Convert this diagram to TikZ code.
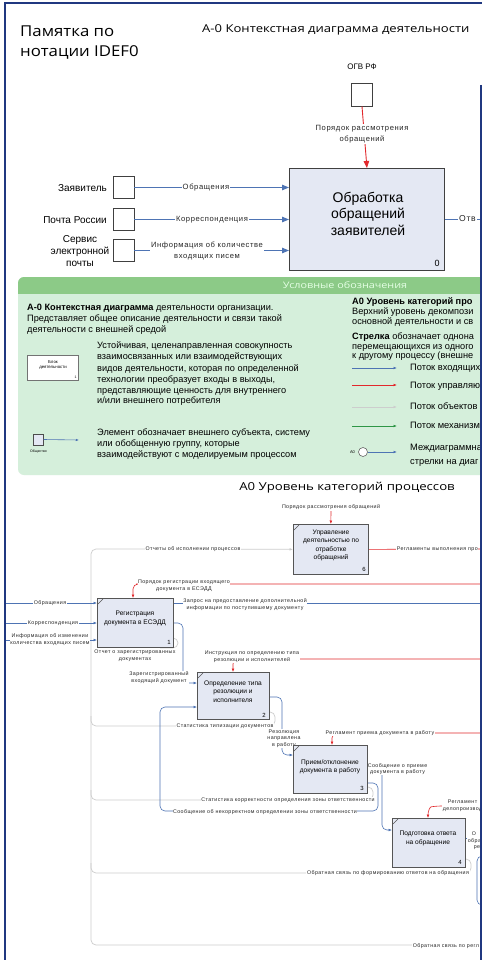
\documentclass[tikz,border=0pt]{standalone}
\usepackage{fontspec}
\setmainfont{Liberation Sans}
\newfontfamily\headfont[FakeStretch=1.12]{Open Sans}
\newfontfamily\widehead[FakeStretch=1.2]{Open Sans}
\newfontfamily\lblfont[LetterSpace=8]{Liberation Sans}
\usetikzlibrary{arrows.meta}

\definecolor{frameblue}{RGB}{32,56,128}
\definecolor{flowblue}{RGB}{78,116,180}
\definecolor{ctrlred}{RGB}{226,40,44}
\definecolor{fbgray}{RGB}{205,205,205}
\definecolor{boxfill}{RGB}{228,232,243}
\definecolor{boxline}{RGB}{85,85,85}
\definecolor{legbody}{RGB}{213,239,219}
\definecolor{leghead}{RGB}{140,202,135}
\definecolor{mechgreen}{RGB}{46,150,70}

\newcommand\legline[4]{\node[legtext, anchor=mid west] (#1) at (#2,#3) {#4};}

\begin{document}
\begin{tikzpicture}[x=1pt,y=-1pt,
  headtitle/.style={font=\headfont\fontsize{15}{18}\selectfont, inner sep=0},
  headsub/.style={font=\widehead\fontsize{10.9}{13}\selectfont, inner sep=0},
  srcbox/.style={draw=black!75, fill=white, line width=0.8pt, minimum width=21pt, minimum height=21.5pt, inner sep=0},
  procbox/.style={draw=boxline, fill=boxfill, line width=0.7pt, inner sep=0, anchor=north west},
  boxtext/.style={font=\fontsize{6.6}{8.3}\selectfont, align=center, inner sep=0},
  numtext/.style={font=\fontsize{6}{7}\selectfont, inner sep=0},
  tag/.style={font=\lblfont\fontsize{5.3}{6.6}\selectfont, align=center, fill=white, inner sep=0.6pt, text=black!85},
  toptag/.style={font=\lblfont\fontsize{7.6}{10.5}\selectfont, align=center, fill=white, inner sep=1pt, text=black!85},
  srcname/.style={font=\fontsize{10}{12}\selectfont, inner sep=0, align=center},
  legtext/.style={font=\fontsize{9.2}{11}\selectfont, inner sep=0},
  flowname/.style={font=\fontsize{9.3}{12}\selectfont, anchor=mid west, inner sep=0},
  bigin/.style={draw=flowblue, line width=0.9pt, -{Triangle[length=7pt,width=5.5pt]}},
  bigctrl/.style={draw=ctrlred, line width=0.9pt, -{Triangle[length=7pt,width=5.5pt]}},
  flowin/.style={draw=flowblue, line width=0.6pt, rounded corners=5pt, -{Latex[length=3.5pt,width=2.8pt]}},
  flowout/.style={draw=flowblue, line width=0.6pt, rounded corners=5pt},
  ctrl/.style={draw=ctrlred, line width=0.6pt, rounded corners=5pt, -{Latex[length=3.5pt,width=2.8pt]}},
  ctrlout/.style={draw=ctrlred, line width=0.6pt},
  fb/.style={draw=fbgray, line width=0.7pt, rounded corners=5pt},
  legarrow/.style={line width=0.8pt, -{Latex[length=3.5pt,width=2.8pt]}},
  corner/.style={draw=boxline, line width=0.6pt}
]
\useasboundingbox (0,0) rectangle (482,960);
\fill[white] (0,0) rectangle (482,960);

\begin{scope}
\clip (0,0) rectangle (480,960);

% ---------- headings ----------
\node[headtitle, anchor=base west] (memo1) at (20,37) {Памятка по};
\node[headtitle, anchor=base west] (memo2) at (20,57) {нотации IDEF0};
\node[headsub, anchor=base west] (a0title) at (202,33) {А-0 Контекстная диаграмма деятельности};

% ---------- context diagram A-0 ----------
\node[srcbox, minimum height=23pt] (ogv) at (362,94.5) {};
\node[font=\fontsize{8}{9}\selectfont, inner sep=0] (ogvname) at (362,67) {ОГВ РФ};
\node[procbox, draw=black!75, line width=0.9pt, minimum width=155pt, minimum height=102pt] (b0) at (289,168) {};
\node[font=\fontsize{14}{16.5}\selectfont, align=center, inner sep=0] (b0text) at (368,213.5) {Обработка\\обращений\\заявителей};
\node[font=\fontsize{9}{10}\selectfont, inner sep=0] (b0num) at (437,263) {0};

\node[srcbox] (s1) at (123.5,187.5) {};
\node[srcbox] (s2) at (123.5,219.5) {};
\node[srcbox, minimum height=22pt] (s3) at (123.5,250.5) {};
\node[srcname, anchor=east] (s1name) at (107,188) {Заявитель};
\node[srcname, anchor=east] (s2name) at (107,220) {Почта России};
\node[srcname] (s3name) at (80,251) {Сервис\\электронной\\почты};

\draw[bigctrl] (ogv.south) -- (b0.north);
\node[toptag] (ogvflow) at (362,134) {Порядок рассмотрения\\обращений};
\draw[bigin] (s1.east) -- (b0.west |- s1.east);
\draw[bigin] (s2.east) -- (b0.west |- s2.east);
\draw[bigin] (s3.east) -- (b0.west |- s3.east);
\node[toptag] (f1) at (206,187.5) {Обращения};
\node[toptag] (f2) at (212,219.5) {Корреспонденция};
\node[toptag] (f3) at (207,251) {Информация об количестве\\входящих писем};
\coordinate (b0out) at (482,219);
\draw[draw=flowblue, line width=0.9pt] (b0.east |- b0out) -- (b0out);
\node[toptag, font=\lblfont\fontsize{8.6}{10}\selectfont, anchor=west] (f4) at (458,219) {Отв};

% ---------- legend panel ----------
\fill[legbody, rounded corners=6pt] (18,277) rectangle (500,475);
\begin{scope}
  \clip (0,270) rectangle (482,293.5);
  \fill[leghead, rounded corners=6pt] (18,277) rectangle (500,300);
\end{scope}
\node[font=\widehead\fontsize{9}{11}\selectfont, text=white!90!green, inner sep=0] (leghdr) at (345,285.5) {Условные обозначения};

\legline{l1}{27}{308}{\textbf{А-0 Контекстная диаграмма} деятельности организации.}
\legline{l2}{27}{319}{Представляет общее описание деятельности и связи такой}
\legline{l3}{27}{330}{деятельности с внешней средой}

\node[draw=black!55, fill=white, line width=0.5pt, anchor=north west, minimum width=51pt, minimum height=25pt, inner sep=0] (legblock) at (27,355) {};
\node[font=\fontsize{4.3}{5}\selectfont, align=center, inner sep=0] (legblocktxt) at (53,365) {Блок\\деятельности};
\node[font=\fontsize{3.5}{4}\selectfont, inner sep=0] (legblocknum) at (75.5,377.5) {1};
\legline{l4}{97}{346}{Устойчивая, целенаправленная совокупность}
\legline{l5}{97}{357}{взаимосвязанных или взаимодействующих}
\legline{l6}{97}{369}{видов деятельности, которая по определенной}
\legline{l7}{97}{380}{технологии преобразует входы в выходы,}
\legline{l8}{97}{391}{представляющие ценность для внутреннего}
\legline{l9}{97}{401}{и/или внешнего потребителя}

\node[draw=black!70, fill=boxfill, line width=0.5pt, minimum width=10pt, minimum height=11pt, inner sep=0] (legsrc) at (38.5,439.5) {};
\coordinate (legsrcend) at (79,440);
\draw[draw=flowblue, line width=0.6pt, -{Latex[length=3pt,width=2.4pt]}] (legsrc.east) -- (legsrcend);
\node[font=\fontsize{3.5}{4}\selectfont, inner sep=0] (legsrcname) at (38.5,451.5) {Общество};
\legline{l10}{97}{433}{Элемент обозначает внешнего субъекта, систему}
\legline{l11}{97}{444}{или обобщенную группу, которые}
\legline{l12}{97}{455}{взаимодействуют с моделируемым процессом}

\legline{r1}{352}{302}{\textbf{А0 Уровень категорий про}}
\legline{r2}{352}{312}{Верхний уровень декомпози}
\legline{r3}{352}{322}{основной деятельности и св}
\legline{r4}{352}{337}{\textbf{Стрелка} обозначает однона}
\legline{r5}{352}{347}{перемещающихся из одного}
\legline{r6}{352}{356}{к другому процессу (внешне}

\foreach \yy/\cc/\nm in {368/flowblue/ka, 385/ctrlred/kb, 407/fbgray/kc, 426/mechgreen/kd} {
  \coordinate (\nm s) at (352,\yy);
  \coordinate (\nm e) at (397,\yy);
  \draw[legarrow, draw=\cc] (\nm s) -- (\nm e);
}
\node[flowname] (t1) at (410,368) {Поток входящих};
\node[flowname] (t2) at (410,386) {Поток управляю};
\node[flowname] (t3) at (410,407) {Поток объектов};
\node[flowname] (t4) at (410,426) {Поток механизм};
\node[flowname] (t5) at (410,448) {Междиаграммна};
\node[flowname] (t6) at (410,462) {стрелки на диаг};
\node[circle, draw=black!60, fill=white, line width=0.6pt, minimum size=9pt, inner sep=0] (a0circ) at (363,452) {};
\node[font=\fontsize{4}{5}\selectfont, inner sep=0] (a0tag) at (352.5,452) {А0};
\coordinate (a0end) at (397,452);
\draw[legarrow, draw=flowblue] (a0circ.east) -- (a0end);

% ---------- A0 decomposition ----------
\node[font=\widehead\fontsize{11}{13}\selectfont, inner sep=0] (a0head) at (347,488) {А0 Уровень категорий процессов};

% process boxes (placed first as nodes, filled again on top of the lines later)
\path
  (293,524) node[procbox, minimum width=75pt, minimum height=50pt] (b6) {}
  (97,598)  node[procbox, minimum width=76pt, minimum height=49pt] (b1) {}
  (197,672) node[procbox, minimum width=72pt, minimum height=47pt] (b2) {}
  (293,745) node[procbox, minimum width=74pt, minimum height=48pt] (b3) {}
  (392,818) node[procbox, minimum width=73pt, minimum height=49pt] (b4) {};

% feedback loop on the left (gray)
\coordinate (fbtop) at (91,549);
\coordinate (fbbot) at (91,945);
\coordinate (fbend) at (482,945);
\draw[fb, -{Latex[length=3.5pt,width=2.8pt]}] (fbend) -- (fbbot) -- (fbtop) -- (b6.west);
\draw[fb] (b1.east |- 0,638) -- (178,638) -- (178,648) -- (160,648);
\draw[fb] (b2.east |- 0,712) -- (275,712) -- (275,726) -- (91,726) -- (91,716);
\draw[fb] (b3.east |- 0,787) -- (373,787) -- (373,800) -- (91,800) -- (91,790);
\draw[fb] (b4.east |- 0,859) -- (471,859) -- (471,873) -- (91,873) -- (91,863);

% controls (red)
\coordinate (c6) at (331,511);
\draw[ctrl] (c6) -- (b6.north);
\coordinate (c1) at (482,584);
\draw[ctrl] (c1) -- (141,584) -- (133,584) -- (b1.north west -| 133,0);
\coordinate (c2) at (482,659);
\draw[ctrl] (c2) -- (233,659) -- (b2.north -| 233,0);
\coordinate (c3) at (482,733);
\draw[ctrl] (c3) -- (332,733) -- (b3.north -| 332,0);
\coordinate (c4) at (482,806);
\draw[ctrl] (c4) -- (436,806) .. controls (430,807) and (428,811) .. (b4.north -| 428,0);
\coordinate (o6) at (482,549);
\draw[ctrlout] (b6.east) -- (o6);

% inputs and outputs (blue)
\coordinate (i1) at (5,603);
\coordinate (i2) at (5,623);
\coordinate (i3) at (5,640);
\draw[flowin] (i1) -- (b1.west |- i1);
\draw[flowin] (i2) -- (b1.west |- i2);
\draw[flowin] (i3) -- (b1.west |- i3);
\coordinate (o1) at (482,603);
\draw[flowout] (b1.east |- o1) -- (o1);
\draw[flowin] (b1.east |- 0,623) -- (183,623) -- (183,683) -- (b2.west |- 0,683);
\draw[flowin] (b2.east |- 0,697) -- (282,697) -- (282,755) -- (b3.west |- 0,755);
\draw[flowin] (b3.east |- 0,783) -- (378,783) -- (378,811) -- (160,811) -- (160,707) -- (b2.west |- 0,707);
\draw[flowin] (b3.east |- 0,768) -- (382,768) -- (382,830) -- (b4.west |- 0,830);
\coordinate (o4) at (482,838);
\draw[flowout] (b4.east |- o4) -- (o4);
\coordinate (o4a) at (482,856);
\coordinate (o4b) at (482,905);
\draw[flowout] (o4a) -- (477,856) -- (477,905) -- (o4b);

% arrow labels
\node[tag] (g1) at (193,549) {Отчеты об исполнении процессов};
\node[tag, anchor=west] (g2) at (412,946) {Обратная связь по регл};
\node[tag] (g3) at (135,655.5) {Отчет о зарегистрированных\\документах};
\node[tag] (g4) at (225,726) {Статистика типизации документов};
\node[tag] (g5) at (288,800) {Статистика корректности определения зоны ответственности};
\node[tag] (g6) at (388,873.5) {Обратная связь по формированию ответов на обращения};
\node[tag] (r6) at (331,507) {Порядок рассмотрения обращений};
\node[tag, anchor=west] (r6o) at (396,549) {Регламенты выполнения про};
\node[tag] (r1) at (184,586) {Порядок регистрации входящего\\документа в ЕСЭДД};
\node[tag] (r2) at (252,656.5) {Инструкция по определению типа\\резолюции и исполнителей};
\node[tag] (r3) at (380,733) {Регламент приема документа в работу};
\node[tag, align=left, anchor=west] (r4) at (442,806) {\hspace*{5pt}Регламент\\делопроизвод};
\node[tag] (u1) at (50,603) {Обращения};
\node[tag] (u2) at (53,623) {Корреспонденция};
\node[tag] (u3) at (50,639.5) {Информация об изменении\\количества входящих писем};
\node[tag] (u4) at (245,604.5) {Запрос на предоставление дополнительной\\информации по поступившему документу};
\node[tag] (u5) at (159,677.5) {Зарегистрированный\\входящий документ};
\node[tag] (u6) at (284,738.5) {Резолюция\\направлена\\в работу};
\node[tag] (u7) at (265,812) {Сообщение об некорректном определении зоны ответственности};
\node[tag] (u8) at (397.5,769) {Сообщение о приеме\\документа в работу};
\node[tag, align=left, anchor=west] (u9) at (467,841) {\hspace*{4pt}О\\обра\\\hspace*{6pt}ре};

% boxes on top of the lines
\foreach \b in {b6,b1,b2,b3,b4} {
  \fill[boxfill] (\b.north west) rectangle (\b.south east);
  \draw[draw=boxline, line width=0.7pt] (\b.north west) rectangle (\b.south east);
  \draw[corner] ([shift={(1,6)}]\b.north west) -- ([shift={(6,1)}]\b.north west);
}
\node[boxtext] (b6t) at (331,545.5) {Управление\\деятельностью по\\отработке\\обращений};
\node[boxtext] (b1t) at (135,618.5) {Регистрация\\документа в ЕСЭДД};
\node[boxtext] (b2t) at (233,691.5) {Определение типа\\резолюции и\\исполнителя};
\node[boxtext] (b3t) at (330,767) {Прием/отклонение\\документа в работу};
\node[boxtext] (b4t) at (428,838.5) {Подготовка ответа\\на обращение};
\node[numtext] (b6n) at (364,569) {6};
\node[numtext] (b1n) at (169,642.5) {1};
\node[numtext] (b2n) at (264,715) {2};
\node[numtext] (b3n) at (362,788.5) {3};
\node[numtext] (b4n) at (460,862.5) {4};
\end{scope}

% ---------- page frame ----------
\draw[frameblue, line width=2pt] (5,960) -- (5,3) -- (482,3);
\draw[frameblue, line width=2.6pt] (480.8,85) -- (480.8,960);
\end{tikzpicture}
\end{document}
